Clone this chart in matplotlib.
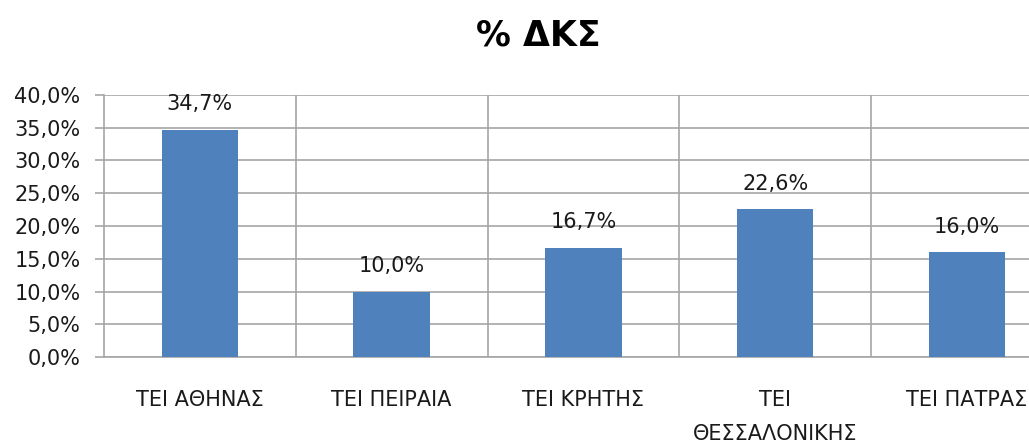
import matplotlib
matplotlib.use("Agg")
import matplotlib.pyplot as plt

categories = ["ΤΕΙ ΑΘΗΝΑΣ", "ΤΕΙ ΠΕΙΡΑΙΑ", "ΤΕΙ ΚΡΗΤΗΣ", "ΤΕΙ\nΘΕΣΣΑΛΟΝΙΚΗΣ", "ΤΕΙ ΠΑΤΡΑΣ"]
values = [34.7, 10.0, 16.7, 22.6, 16.0]
value_labels = ["34,7%", "10,0%", "16,7%", "22,6%", "16,0%"]
yticks = [0, 5, 10, 15, 20, 25, 30, 35, 40]
ytick_labels = ["0,0%", "5,0%", "10,0%", "15,0%", "20,0%", "25,0%", "30,0%", "35,0%", "40,0%"]
title = "% ΔΚΣ"

plt.rcParams['font.family'] = ['DejaVu Sans']

W, H = 1029, 442
fig = plt.figure(figsize=(W / 100, H / 100), dpi=100)
left, right, top, bottom = 104, 1029, 95, 357
ax = fig.add_axes([left / W, 1 - bottom / H, (right - left) / W, (bottom - top) / H])

cat_w = 191.75
x = list(range(len(categories)))
bar_color = "#4F81BD"
ax.bar(x, values, width=0.4, color=bar_color, zorder=3)

ax.set_xlim(-0.5, -0.5 + (right - left) / cat_w)
ax.set_ylim(0, 40)

grid_c = "#A6A6A6"
fs = 15
ax.set_yticks(yticks)
ax.set_yticklabels(ytick_labels, fontsize=fs, color="#1a1a1a")
ax.yaxis.grid(True, color=grid_c, linewidth=1.2, zorder=0)
ax.tick_params(axis="y", length=6.5, width=1.2, color=grid_c, pad=10.5)

ax.set_xticks(x)
ax.set_xticklabels(categories, fontsize=fs, color="#1a1a1a", linespacing=1.85, va="top")
ax.tick_params(axis="x", length=0, pad=24)
for b in [i + 0.5 for i in range(len(categories) - 1)]:
    ax.axvline(b, color=grid_c, linewidth=1.2, zorder=0)

for s in ["top", "right"]:
    ax.spines[s].set_visible(False)
for s in ["left", "bottom"]:
    ax.spines[s].set_color(grid_c)
    ax.spines[s].set_linewidth(1.2)

for xi, v, lab in zip(x, values, value_labels):
    ax.annotate(lab, (xi, v), xytext=(0, 11), textcoords="offset points",
                ha="center", va="bottom", fontsize=fs, color="#1a1a1a")

fig.text(538 / W, 1 - 36 / H, title, ha="center", va="center", fontsize=25, fontweight="bold")

fig.savefig("out.png", dpi=100)
